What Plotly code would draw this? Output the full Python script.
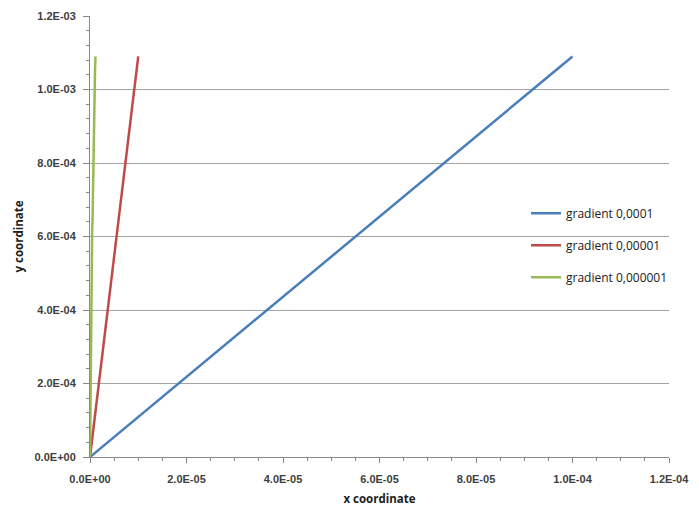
import plotly.graph_objects as go

# Data
blue_x = [0.0, 1.0e-4]
blue_y = [0.0, 1.09e-3]
red_x = [0.0, 1.0e-5]
red_y = [0.0, 1.09e-3]
green_x = [0.0, 2.0e-7, 2.6e-7, 4.6e-7, 5.2e-7, 7.2e-7, 7.8e-7, 9.8e-7, 1.05e-6, 1.15e-6]
green_y = [0.0, 4.0e-4, 4.1e-4, 6.3e-4, 6.4e-4, 8.5e-4, 8.6e-4, 1.05e-3, 1.06e-3, 1.09e-3]
names = ["gradient 0,0001", "gradient 0,00001", "gradient 0,000001"]

x_tickvals = [0, 2e-5, 4e-5, 6e-5, 8e-5, 1e-4, 1.2e-4]
x_ticktext = ["0.0E+00", "2.0E-05", "4.0E-05", "6.0E-05", "8.0E-05", "1.0E-04", "1.2E-04"]
y_tickvals = [0, 2e-4, 4e-4, 6e-4, 8e-4, 1e-3, 1.2e-3]
y_ticktext = ["0.0E+00", "2.0E-04", "4.0E-04", "6.0E-04", "8.0E-04", "1.0E-03", "1.2E-03"]

colors = ["#4a7ebb", "#be4b48", "#98b954"]

fig = go.Figure()
for i, (xs, ys) in enumerate([(blue_x, blue_y), (red_x, red_y), (green_x, green_y)]):
    fig.add_trace(go.Scatter(x=xs, y=ys, mode="lines", name=names[i],
                             legendgroup=str(i),
                             line=dict(color=colors[i], width=2.5)))

tick_font = dict(family="Liberation Sans", size=11, color="#404040", weight="bold")
fig.update_layout(
    width=691, height=498,
    margin=dict(l=82, r=30, t=8, b=49),
    plot_bgcolor="white", paper_bgcolor="white",
    font=dict(family="Open Sans", size=10, color="#404040"),
    legend=dict(x=0.753, y=0.48, xanchor="left", yanchor="middle",
                font=dict(size=12, color="#202020"),
                tracegroupgap=13, itemwidth=30,
                bgcolor="rgba(0,0,0,0)"),
    xaxis=dict(range=[0, 1.2e-4], tickvals=x_tickvals, ticktext=x_ticktext,
               automargin=False,
               showgrid=False, zeroline=False, showline=True, linecolor="#888888",
               linewidth=1, ticks="outside", ticklen=5, tickcolor="#888888",
               ticklabelstandoff=7,
               minor=dict(dtick=5e-6, ticks="outside", ticklen=3, tickcolor="#888888", showgrid=False),
               tickfont=tick_font,
               title=dict(text="<b>x coordinate</b>", font=dict(size=11.5, color="#202020"), standoff=10)),
    yaxis=dict(range=[0, 1.2e-3], tickvals=y_tickvals, ticktext=y_ticktext,
               automargin=False,
               showgrid=True, gridcolor="#a3a3a3", gridwidth=1.4,
               zeroline=False, showline=True, linecolor="#888888",
               linewidth=1, ticks="outside", ticklen=6, tickcolor="#888888",
               ticklabelstandoff=5,
               minor=dict(dtick=4e-5, ticks="outside", ticklen=3, tickcolor="#888888", showgrid=False),
               tickfont=tick_font,
               title=dict(text="<b>y coordinate</b>", font=dict(size=11.5, color="#202020"), standoff=8)),
)

fig.write_html("out.html")
